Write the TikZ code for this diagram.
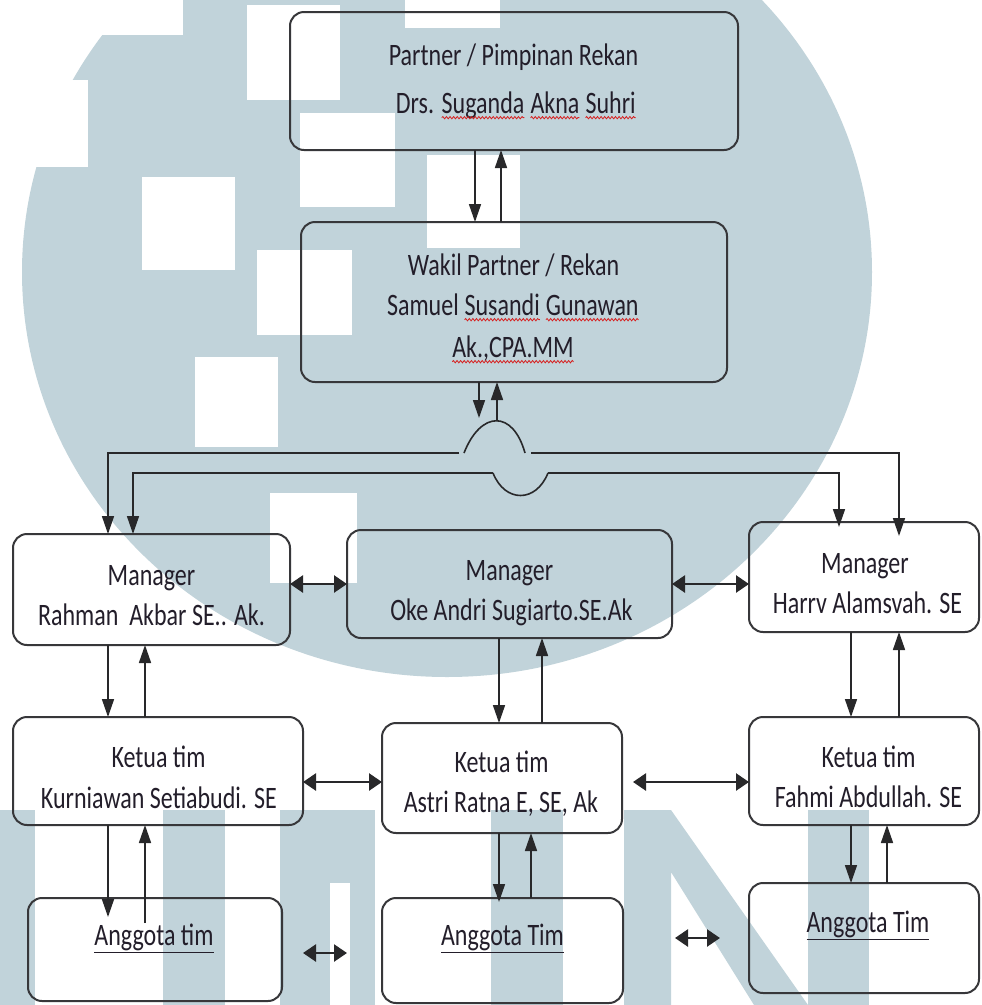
\documentclass[tikz,border=0pt]{standalone}
\usepackage{graphicx}
\usepackage{fontspec}
\setmainfont{Carlito}
\usetikzlibrary{arrows.meta,decorations.pathmorphing}
\definecolor{wm}{RGB}{193,211,218}
\definecolor{boxc}{RGB}{55,55,58}
\definecolor{arrc}{RGB}{40,40,42}
\definecolor{textc}{RGB}{35,30,42}
\definecolor{wavc}{RGB}{215,30,30}
\newcommand\sy[1]{\scalebox{1}[1.3]{#1}}
\newcommand\wav[1]{\tikz[baseline=(w.base)]{\node[inner sep=0pt,outer sep=0pt,anchor=base,draw=none,fill=none] (w) {#1};\draw[wavc,line width=0.7pt,decorate,decoration={snake,amplitude=0.9pt,segment length=3.6pt}] ([yshift=-3.6pt]w.base west) -- ([yshift=-3.6pt]w.base east);}}
\begin{document}
\begin{tikzpicture}[x=1pt,y=-1pt,
 box/.style={draw=boxc, line width=2pt, rounded corners=14pt, inner sep=0pt, outer sep=0pt},
 txt/.style={anchor=base, inner sep=0pt, outer sep=0pt, text=textc, font=\fontsize{24}{28}\selectfont},
 varr/.style={draw=arrc, line width=1.6pt, -{Triangle[length=18pt,width=12pt]}},
 harr/.style={draw=arrc, line width=2.6pt, {Triangle[length=13pt,width=17pt]}-{Triangle[length=13pt,width=17pt]}},
 ln/.style={draw=arrc, line width=1.6pt}]
\useasboundingbox (0,0) rectangle (982,1005);
\fill[white] (0,0) rectangle (982,1005);
% watermark
\begin{scope}
\clip (0,0) rectangle (982,1005);
\fill[wm] (447,272) ellipse [x radius=425, y radius=405];
\fill[white] (0,80) rectangle (88,167);
\fill[white] (97,0) rectangle (183,35);
\fill[white] (247,5) rectangle (340,100);
\fill[white] (405,0) rectangle (500,28);
\fill[white] (300,113) rectangle (395,207);
\fill[white] (427,155) rectangle (520,248);
\fill[white] (142,177) rectangle (235,270);
\fill[white] (257,250) rectangle (352,335);
\fill[white] (195,357) rectangle (278,447);
\fill[white] (270,493) rectangle (357,583);
\fill[wm] (0,810) rectangle (35,1005);
\fill[wm] (163,810) rectangle (225,1005);
\fill[wm] (280,810) rectangle (375,1005);
\fill[white] (330,883) rectangle (350,1005);
\fill[wm] (491,810) rectangle (563,1005);
\fill[wm] (624,810) -- (671,810) -- (808,1005) -- (754,1005) -- (671,872) -- (671,1005) -- (624,1005) -- cycle;
\fill[wm] (808,810) rectangle (869,1005);
\end{scope}
% boxes
\node[box, minimum width=448pt, minimum height=138pt] (top) at (514,81) {};
\node[box, minimum width=426pt, minimum height=160pt] (wakil) at (514,302) {};
\node[box, minimum width=277pt, minimum height=111pt] (rahman) at (151.5,589.5) {};
\node[box, minimum width=325pt, minimum height=108pt] (oke) at (509.5,584) {};
\node[box, minimum width=230pt, minimum height=110pt] (harry) at (864,577) {};
\node[box, minimum width=290pt, minimum height=108pt] (kurn) at (158,771) {};
\node[box, minimum width=240pt, minimum height=110pt] (astri) at (502,778) {};
\node[box, minimum width=230pt, minimum height=108pt] (fahmi) at (864,771) {};
\node[box, minimum width=254pt, minimum height=103pt] (ang1) at (155,949.5) {};
\node[box, minimum width=241pt, minimum height=105pt] (ang2) at (502.5,950.5) {};
\node[box, minimum width=230pt, minimum height=110pt] (ang3) at (864,938) {};
% texts
\node[txt] (t1a) at (513.5,65) {\sy{Partner / Pimpinan Rekan}};
\node[txt] (t1b) at (516,113) {\sy{Drs. \wav{Suganda} \wav{Akna} \wav{Suhri}}};
\node[txt] (t2a) at (513.5,275) {\sy{Wakil Partner / Rekan}};
\node[txt] (t2b) at (513,315) {\sy{Samuel \wav{Susandi} \wav{Gunawan}}};
\node[txt] (t2c) at (513,357) {\sy{\wav{Ak.,CPA.MM}}};
\node[txt] (t3a) at (151.5,585) {\sy{Manager}};
\node[txt] (t3b) at (151.5,625) {\sy{Rahman\ \ Akbar SE.. Ak.}};
\node[txt] (t4a) at (509.5,580) {\sy{Manager}};
\node[txt] (t4b) at (511.5,620) {\sy{Oke Andri Sugiarto.SE.Ak}};
\node[txt] (t5a) at (865,573) {\sy{Manager}};
\node[txt] (t5b) at (867.5,613) {\sy{Harrv Alamsvah. SE}};
\node[txt] (t6a) at (158.5,767) {\sy{Ketua tim}};
\node[txt] (t6b) at (159,808) {\sy{Kurniawan Setiabudi. SE}};
\node[txt] (t7a) at (501.5,772) {\sy{Ketua tim}};
\node[txt] (t7b) at (501,812) {\sy{Astri Ratna E, SE, Ak}};
\node[txt] (t8a) at (868.5,767) {\sy{Ketua tim}};
\node[txt] (t8b) at (868.5,807) {\sy{Fahmi Abdullah. SE}};
\node[txt] (t9) at (154,945) {\sy{\underline{Anggota tim}}};
\node[txt] (t10) at (502.5,945) {\sy{\underline{Anggota Tim}}};
\node[txt] (t11) at (868,932) {\sy{\underline{Anggota Tim}}};
% x / y helper coordinates
\foreach \xx in {108,133,145,475,479,499,501,531,542,839,851,887,899} {\coordinate (cx\xx) at (\xx,0);}
\coordinate (cy782) at (0,782);
\coordinate (cy953) at (0,953);
\coordinate (cy938) at (0,938);
% partner <-> wakil
\draw[varr] (top.south -| cx475) -- (wakil.north -| cx475);
\draw[varr] (wakil.north -| cx501) -- (top.south -| cx501);
% wakil down / arch
\coordinate (wd) at (479,418);
\draw[varr] (wakil.south -| cx479) -- (wd);
\coordinate (aL) at (464,453);
\coordinate (aR) at (525,453);
\coordinate (ap) at (497,421);
\draw[ln] (aL) .. controls (481,410) and (513,410) .. (aR);
\draw[varr] (ap) -- (wakil.south -| ap);
% line A (upper)
\coordinate (lA) at (459,453);
\coordinate (rA) at (531,453);
\path (harry.north -| cx899) ++(0,14) coordinate (hA);
\draw[varr] (lA) -| (rahman.north -| cx108);
\draw[varr] (rA) -| (hA);
% line B (lower)
\coordinate (lB) at (493,473);
\coordinate (rB) at (548,473);
\path (harry.north -| cx839) ++(0,5) coordinate (hB);
\draw[varr] (lB) -| (rahman.north -| cx133);
\draw[ln] (lB) .. controls (505,503) and (536,503) .. (rB);
\draw[varr] (rB) -| (hB);
% manager links
\draw[harr] (rahman.east |- oke.west) -- (oke.west);
\draw[harr] (oke.east) -- (harry.west |- oke.east);
% manager <-> ketua
\draw[varr] (rahman.south -| cx108) -- (kurn.north -| cx108);
\draw[varr] (kurn.north -| cx145) -- (rahman.south -| cx145);
\draw[varr] (oke.south -| cx499) -- (astri.north -| cx499);
\draw[varr] (astri.north -| cx542) -- (oke.south -| cx542);
\draw[varr] (harry.south -| cx851) -- (fahmi.north -| cx851);
\draw[varr] (fahmi.north -| cx899) -- (harry.south -| cx899);
% ketua links
\path (astri.east |- cy782) ++(11,0) coordinate (ae);
\draw[harr] (kurn.east |- cy782) -- (astri.west |- cy782);
\draw[harr] (ae) -- (fahmi.west |- cy782);
% ketua <-> anggota
\path (ang1.north -| cx108) ++(0,19) coordinate (k1);
\path (ang1.north -| cx145) ++(0,25) coordinate (k2);
\path (ang2.north -| cx499) ++(0,4) coordinate (k3);
\draw[varr] (kurn.south -| cx108) -- (k1);
\draw[varr] (k2) -- (kurn.south -| cx145);
\draw[varr] (astri.south -| cx499) -- (k3);
\draw[varr] (ang2.north -| cx531) -- (astri.south -| cx531);
\draw[varr] (fahmi.south -| cx851) -- (ang3.north -| cx851);
\draw[varr] (ang3.north -| cx887) -- (fahmi.south -| cx887);
% anggota links
\path (ang1.east |- cy953) ++(21,0) coordinate (g1);
\path (ang2.west |- cy953) ++(-35,0) coordinate (g2);
\path (ang2.east |- cy938) ++(52,0) coordinate (g3);
\path (ang3.west |- cy938) ++(-29,0) coordinate (g4);
\draw[harr] (g1) -- (g2);
\draw[harr] (g3) -- (g4);
\end{tikzpicture}
\end{document}
